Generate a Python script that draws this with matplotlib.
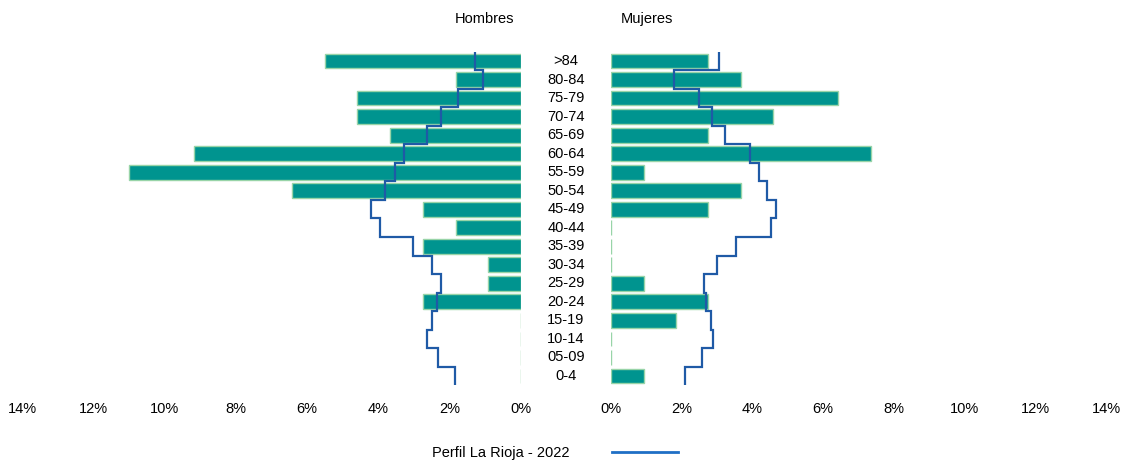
import numpy as np
from matplotlib import pyplot as plt

# age groups, bottom to top
grupos = ['0-4', '05-09', '10-14', '15-19', '20-24', '25-29', '30-34', '35-39', '40-44',
          '45-49', '50-54', '55-59', '60-64', '65-69', '70-74', '75-79', '80-84', '>84']

# bars (% of population)
hombres = [0, 0, 0, 0, 2.75, 0.92, 0.92, 2.75, 1.83, 2.75, 6.42, 11.01, 9.17, 3.67, 4.59, 4.59, 1.83, 5.50]
mujeres = [0.92, 0, 0, 1.83, 2.75, 0.92, 0, 0, 0, 2.75, 3.67, 0.92, 7.34, 2.75, 4.59, 6.42, 3.67, 2.75]

# reference profile La Rioja 2022
perfil_h = [1.85, 2.33, 2.64, 2.50, 2.36, 2.25, 2.50, 3.03, 3.96, 4.21, 3.82, 3.54, 3.29, 2.64, 2.25, 1.77, 1.07, 1.29]
perfil_m = [2.09, 2.57, 2.89, 2.83, 2.69, 2.63, 2.99, 3.54, 4.52, 4.67, 4.41, 4.19, 3.93, 3.22, 2.86, 2.49, 1.78, 3.05]

ticks = [0, 2, 4, 6, 8, 10, 12, 14]

bar_col = '#00948f'
edge_col = '#98d4a8'
line_col = '#1f5aa6'

plt.rcParams['font.family'] = ['Liberation Sans', 'DejaVu Sans']

W, H = 1122, 461
fig = plt.figure(figsize=(W / 100, H / 100), dpi=100)

bottom = 1 - 392 / H
top = 1 - 45 / H
axL = fig.add_axes([22 / W, bottom, (521 - 22) / W, top - bottom])
axR = fig.add_axes([611 / W, bottom, (1106 - 611) / W, top - bottom])

y = np.arange(len(grupos))
edges = np.arange(len(grupos) + 1) - 0.5

for ax, vals, perfil in [(axL, hombres, perfil_h), (axR, mujeres, perfil_m)]:
    ax.barh(y, vals, height=0.8, color=bar_col, edgecolor=edge_col, linewidth=1.0)
    ax.stairs(perfil, edges, orientation='horizontal', baseline=None,
              color=line_col, linewidth=1.6)
    ax.set_ylim(-0.865, len(grupos) - 1 + 0.865)
    ax.set_yticks([])
    ax.set_xticks(ticks)
    ax.set_xticklabels(['%d%%' % t for t in ticks])
    ax.tick_params(axis='x', length=0, pad=7, labelsize=10.5)
    for s in ax.spines.values():
        s.set_visible(False)

axL.set_xlim(14, 0)
axR.set_xlim(0, 14)

# age labels in the middle
for i, g in enumerate(grupos):
    yy = axL.transData.transform((0, i))[1]
    fig.text(566 / W, yy / fig.dpi / fig.get_figheight(), g, ha='center', va='center', fontsize=10.5)

fig.text(484 / W, 1 - 19 / H, 'Hombres', ha='center', va='center', fontsize=10.5)
fig.text(647 / W, 1 - 19 / H, 'Mujeres', ha='center', va='center', fontsize=10.5)

# legend
fig.text(501 / W, 1 - 453 / H, 'Perfil La Rioja - 2022', ha='center', va='center', fontsize=10.5)
fig.add_artist(plt.Line2D([612 / W, 678 / W], [1 - 452 / H, 1 - 452 / H], color='#1f6fc5', linewidth=2))

fig.savefig('out.png', dpi=100)
